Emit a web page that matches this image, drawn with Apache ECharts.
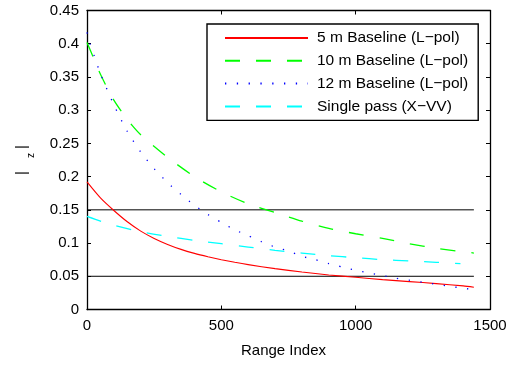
<!DOCTYPE html>
<html>
<head>
<meta charset="utf-8">
<script src="https://cdn.jsdelivr.net/npm/echarts@6/dist/echarts.min.js"></script>
<style>
html,body{margin:0;padding:0;background:#fff;}
#chart{width:520px;height:367px;}
</style>
</head>
<body>
<div id="chart"></div>
<script>
// ---- data ----
const seriesNames = ['5 m Baseline (L\u2212pol)', '10 m Baseline (L\u2212pol)', '12 m Baseline (L\u2212pol)', 'Single pass (X\u2212VV)'];

const redX = [0, 50, 100, 150, 200, 250, 300, 350, 400, 450, 500, 550, 600, 700, 800, 900, 1000, 1100, 1200, 1300, 1400, 1440];
const redY = [0.192, 0.168, 0.149, 0.132, 0.118, 0.107, 0.098, 0.0905, 0.0845, 0.0795, 0.075, 0.071, 0.0675, 0.0615, 0.0565, 0.052, 0.0485, 0.045, 0.042, 0.039, 0.0355, 0.0335];

const greenX = [0, 25, 50, 100, 150, 200, 300, 400, 500, 600, 700, 800, 900, 1000, 1100, 1200, 1300, 1400, 1440];
const greenY = [0.402, 0.378, 0.354, 0.315, 0.286, 0.263, 0.229, 0.200, 0.177, 0.159, 0.146, 0.133, 0.122, 0.114, 0.107, 0.099, 0.092, 0.087, 0.085];

const blueX = [0, 10, 25, 50, 100, 150, 200, 250, 300, 350, 400, 450, 500, 550, 600, 650, 700, 750, 800, 850, 900, 950, 1000, 1050, 1100, 1150, 1200, 1250, 1300, 1350, 1400, 1440];
const blueY = [0.417, 0.401, 0.384, 0.355, 0.308, 0.268, 0.237, 0.212, 0.191, 0.173, 0.157, 0.143, 0.131, 0.120, 0.111, 0.102, 0.094, 0.088, 0.080, 0.075, 0.069, 0.064, 0.059, 0.055, 0.051, 0.047, 0.044, 0.041, 0.038, 0.035, 0.032, 0.030];

const cyanX = [0, 50, 100, 200, 300, 400, 500, 600, 700, 800, 900, 1000, 1100, 1200, 1300, 1390];
const cyanY = [0.140, 0.133, 0.127, 0.117, 0.110, 0.104, 0.099, 0.094, 0.089, 0.085, 0.081, 0.078, 0.075, 0.073, 0.071, 0.069];

const thresholdX = [0, 1440];
const thresholds = [0.05, 0.15];

const xTicks = [0, 500, 1000, 1500];
const yTicks = [0, 0.05, 0.1, 0.15, 0.2, 0.25, 0.3, 0.35, 0.4, 0.45];

// ---- build ----
const pair = (xs, ys) => xs.map((x, i) => [x, ys[i]]);
const FONT = 'Liberation Sans, Arial, Helvetica, sans-serif';

const chart = echarts.init(document.getElementById('chart'), null, {renderer: 'canvas'});

const axisCommon = {
  axisLine: {show: true, onZero: false, lineStyle: {color: '#000', width: 1.3}},
  axisTick: {show: true, inside: true, length: 4, lineStyle: {color: '#000', width: 1}},
  splitLine: {show: false}
};

const curveSeries = [
  {name: seriesNames[0], data: pair(redX, redY), color: '#ff0000', ls: {type: 'solid', width: 1.1}},
  {name: seriesNames[1], data: pair(greenX, greenY), color: '#00ff00', ls: {type: [15, 16], width: 1.3}},
  {name: seriesNames[2], data: pair(blueX, blueY), color: '#0000ff', ls: {type: [1.3, 10.5], width: 1.3}},
  {name: seriesNames[3], data: pair(cyanX, cyanY), color: '#00ffff', ls: {type: [15, 16], width: 1.3}}
].map(s => ({
  type: 'line', name: s.name, data: s.data, smooth: 0.25, symbol: 'none', showSymbol: false,
  color: s.color, lineStyle: Object.assign({color: s.color}, s.ls), z: 3, animation: false
}));

const thresholdSeries = thresholds.map(t => ({
  type: 'line', name: 'thr' + t, data: thresholdX.map(x => [x, t]), symbol: 'none',
  lineStyle: {color: '#000', width: 1}, z: 2, animation: false, silent: true
}));

const option = {
  backgroundColor: '#fff',
  animation: false,
  textStyle: {fontFamily: FONT, color: '#000'},
  grid: {left: 87, right: 30, top: 10.5, bottom: 57.5, containLabel: false},
  legend: {
    data: seriesNames,
    orient: 'vertical', left: 207, top: 24, align: 'left',
    padding: [6, 10, 6, 17],
    itemWidth: 83, itemHeight: 14, itemGap: 6.8,
    itemStyle: {opacity: 0},
    backgroundColor: '#fff', borderColor: '#000', borderWidth: 1.4,
    textStyle: {fontSize: 15.5, color: '#000', fontFamily: FONT, padding: [0, 0, 0, 4]}
  },
  xAxis: [
    Object.assign({type: 'value', min: 0, max: 1500, interval: 500, position: 'bottom',
      name: 'Range Index', nameLocation: 'middle', nameGap: 34,
      nameTextStyle: {fontSize: 15, color: '#000', fontFamily: FONT, padding: [0, 10, 0, 0]},
      axisLabel: {fontSize: 15, color: '#000', margin: 9, fontFamily: FONT,
        formatter: v => String(v)}}, axisCommon),
    Object.assign({type: 'value', min: 0, max: 1500, interval: 500, position: 'top',
      axisLabel: {show: false}}, axisCommon)
  ],
  yAxis: [
    Object.assign({type: 'value', min: 0, max: 0.45, interval: 0.05, position: 'left',
      axisLabel: {fontSize: 15, color: '#000', margin: 8, fontFamily: FONT,
        formatter: v => String(+v.toFixed(2))}}, axisCommon),
    Object.assign({type: 'value', min: 0, max: 0.45, interval: 0.05, position: 'right',
      axisLabel: {show: false}}, axisCommon)
  ],
  graphic: [
    {type: 'text', x: 21.5, y: 173, rotation: Math.PI / 2,
      style: {text: '|', fill: '#000', font: '15px ' + FONT, textAlign: 'center', textVerticalAlign: 'middle'}},
    {type: 'text', x: 21.5, y: 147, rotation: Math.PI / 2,
      style: {text: '|', fill: '#000', font: '15px ' + FONT, textAlign: 'center', textVerticalAlign: 'middle'}},
    {type: 'text', x: 30.8, y: 155.5, rotation: Math.PI / 2,
      style: {text: 'z', fill: '#000', font: '10px ' + FONT, textAlign: 'center', textVerticalAlign: 'middle'}}
  ],
  series: thresholdSeries.concat(curveSeries)
};

chart.setOption(option);
</script>
</body>
</html>
